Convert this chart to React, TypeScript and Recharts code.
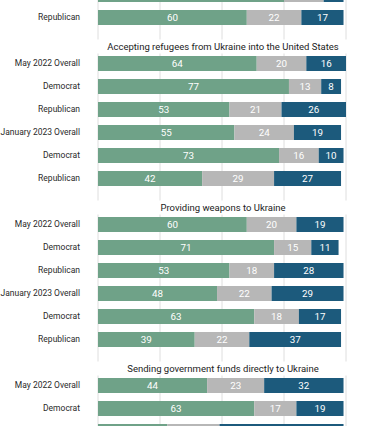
import React from 'react';
import { BarChart, Bar, XAxis, YAxis, CartesianGrid, LabelList } from 'recharts';

// row labels, null marks a section heading row
const rowLabels = [
  'Democrat', 'Republican',
  null,
  'May 2022 Overall', 'Democrat', 'Republican', 'January 2023 Overall', 'Democrat', 'Republican',
  null,
  'May 2022 Overall', 'Democrat', 'Republican', 'January 2023 Overall', 'Democrat', 'Republican',
  null,
  'May 2022 Overall', 'Democrat', 'Republican',
];

const sectionTitles = [
  'Accepting refugees from Ukraine into the United States',
  'Providing weapons to Ukraine',
  'Sending government funds directly to Ukraine',
];

const support = [75, 60, null, 64, 77, 53, 55, 73, 42, null, 60, 71, 53, 48, 63, 39, null, 44, 63, 28];
const neutral = [16, 22, null, 20, 13, 21, 24, 16, 29, null, 20, 15, 18, 22, 18, 22, null, 23, 17, 21];
const oppose = [8, 17, null, 16, 8, 26, 19, 10, 27, null, 19, 11, 28, 29, 17, 37, null, 32, 19, 50];

const gridTicks = [0, 25, 50, 75, 100];

const GREEN = '#6fa288';
const GRAY = '#b7b7b7';
const BLUE = '#1c5a7c';

let t = 0;
const data = rowLabels.map((label, i) => ({
  key: String(i),
  label: label ?? '',
  title: label === null ? sectionTitles[t++] : null,
  support: support[i],
  neutral: neutral[i],
  oppose: oppose[i],
}));

const W = 365;
const H = 426;
const PLOT_LEFT = 98;
const PLOT_RIGHT = 346;
const SHIFT = 17.5; // chart is scrolled up, rows at top and bottom are cut by the frame

// text whose row centre falls outside the frame is not drawn
const inFrame = (cy: number) => cy - SHIFT > 4 && cy - SHIFT < H - 4;

const RowTick = ({ x, y, payload }: any) => {
  const row = data[Number(payload.value)];
  if (!row) return null;
  if (row.title) {
    const cx = (PLOT_LEFT + PLOT_RIGHT) / 2 + 1;
    return (
      <g>
        <rect x={PLOT_LEFT - 2} y={y - 1} width={PLOT_RIGHT - PLOT_LEFT + 4} height={14} fill="#fff" />
        <text x={cx} y={y + 6} dy="0.35em" textAnchor="middle" fontSize={9.5} fill="#222">
          {row.title}
        </text>
      </g>
    );
  }
  if (!inFrame(y)) return null;
  return (
    <text x={x - 10} y={y} dy="0.35em" textAnchor="end" fontSize={8.5} fill="#2a2a2a">
      {row.label}
    </text>
  );
};

const ValueLabel = ({ x, y, width, height, value }: any) => {
  if (value == null || !inFrame(y + height / 2)) return null;
  return (
    <text x={x + width / 2} y={y + height / 2} dy="0.36em" textAnchor="middle" fontSize={9.8} fill="#fff">
      {value}
    </text>
  );
};

export default function App() {
  return (
    <div style={{ position: 'absolute', left: 0, top: 0, width: W, height: H, overflow: 'hidden', background: '#fff', fontFamily: 'Roboto, sans-serif' }}>
      <div style={{ position: 'absolute', left: 0, top: -SHIFT }}>
        <BarChart
          width={W}
          height={460}
          data={data}
          layout="vertical"
          margin={{ top: 0, right: W - PLOT_RIGHT, bottom: 0, left: 0 }}
          barSize={15}
        >
          <CartesianGrid horizontal={false} stroke="#dedede" />
          <XAxis type="number" domain={[0, 100]} ticks={gridTicks} hide />
          <YAxis
            type="category"
            dataKey="key"
            width={PLOT_LEFT}
            axisLine={false}
            tickLine={false}
            tick={<RowTick />}
            interval={0}
          />
          <Bar dataKey="support" stackId="a" fill={GREEN} isAnimationActive={false}>
            <LabelList dataKey="support" content={<ValueLabel />} />
          </Bar>
          <Bar dataKey="neutral" stackId="a" fill={GRAY} isAnimationActive={false}>
            <LabelList dataKey="neutral" content={<ValueLabel />} />
          </Bar>
          <Bar dataKey="oppose" stackId="a" fill={BLUE} isAnimationActive={false}>
            <LabelList dataKey="oppose" content={<ValueLabel />} />
          </Bar>
        </BarChart>
      </div>
    </div>
  );
}
